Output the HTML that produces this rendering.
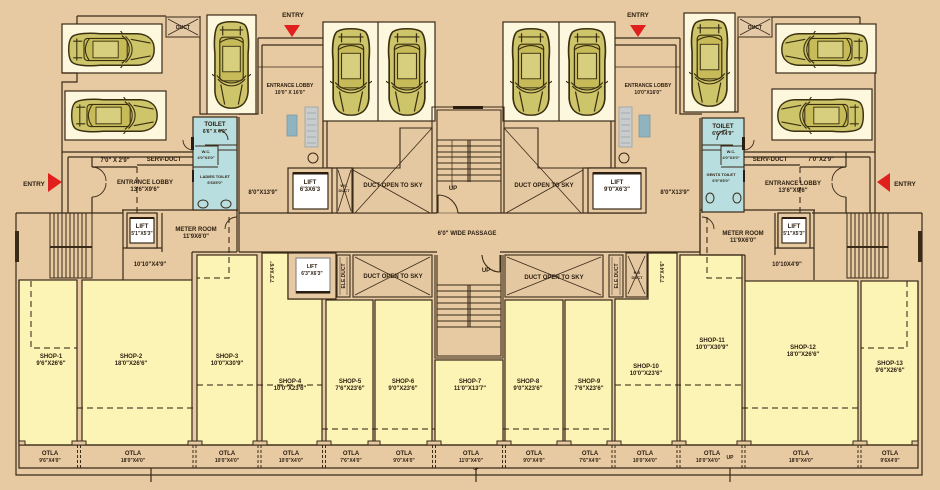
<!DOCTYPE html>
<html><head><meta charset="utf-8"><style>
html,body{margin:0;padding:0;background:#E7CAA2;}
svg{display:block;}
.t{font-family:"Liberation Sans",sans-serif;font-weight:bold;font-size:6px;fill:#2b1d10;text-anchor:middle;}
.s{font-size:5px;}
.xs{font-size:4px;}
.en{font-size:6.5px;}
</style></head><body>
<svg width="940" height="490" viewBox="0 0 940 490" xmlns="http://www.w3.org/2000/svg">
<defs>
<symbol id="car" viewBox="0 0 100 40" preserveAspectRatio="none">
<path d="M6,7 C10,2 28,2 38,3 L80,3 C93,4 98,11 98,20 C98,29 93,36 80,37 L38,37 C28,38 10,38 6,33 C2,28 2,12 6,7 Z" fill="#CEC46A" stroke="#3a3010" stroke-width="1.6"/>
<rect x="20" y="8" width="48" height="24" rx="4" fill="#C6BB58" stroke="#3a3010" stroke-width="1.2"/>
<rect x="30" y="11" width="28" height="18" fill="#D8CF7E" stroke="#3a3010" stroke-width="1"/>
<path d="M62,5 C73,13 73,27 62,35 M66,6 C76,14 76,26 66,34 M26,8 C20,16 20,24 26,32 M72,9 L94,13 M72,31 L94,27 M8,11 L18,11 M8,29 L18,29 M63,3 L60,-1 M63,37 L60,41 M12,8 L12,32" fill="none" stroke="#3a3010" stroke-width="1.2"/>
</symbol>
</defs>
<rect width="940" height="490" fill="#E7CAA2"/>

<!-- SHOPS -->
<g fill="#FBF4B4" stroke="#3a2a18" stroke-width="1.2">
<rect x="19" y="280" width="58" height="165"/>
<rect x="82" y="280" width="110" height="165"/>
<rect x="197" y="255" width="60" height="190"/>
<path d="M262,253 H288 V299 H322 V445 H262 Z"/>
<rect x="326" y="300" width="47" height="145"/>
<rect x="375" y="300" width="57" height="145"/>
<rect x="435" y="360" width="68" height="85"/>
<rect x="505" y="300" width="58" height="145"/>
<rect x="565" y="300" width="47" height="145"/>
<path d="M615,299 H648 V253 H677 V445 H615 Z"/>
<rect x="680" y="255" width="62" height="190"/>
<rect x="745" y="281" width="113" height="164"/>
<rect x="861" y="281" width="57" height="164"/>
</g>

<!-- shop dashed lines -->
<g fill="none" stroke="#2b1d10" stroke-width="1" stroke-dasharray="6,4">
<path d="M31,281 V348 H77"/>
<path d="M77,408 H195"/>
<path d="M197,385 H322"/>
<path d="M322,429 H435"/>
<path d="M503,429 H613"/>
<path d="M615,385 H742"/>
<path d="M742,408 H860"/>
<path d="M907,281 V348 H861"/>
<path d="M229,217 V278 H197"/>
<path d="M707,217 V278 H742"/>
<path d="M137,167 V213"/>
<path d="M800,167 V213"/>
</g>

<!-- OTLA band & outer walls -->
<g fill="none" stroke="#3a2a18" stroke-width="1.2">
<path d="M16,213 V475 H922 V213"/>
<path d="M19,280 V468 H918 V281"/>
<path d="M19,445 H918"/>
<path d="M16,213 H123"/>
<path d="M812,213 H922"/>
<path d="M151,468 V482 M476,468 V482 M730,468 V482"/>
</g>
<rect x="15" y="231" width="4" height="31" fill="#3a2a18"/>
<rect x="918" y="231" width="4" height="31" fill="#3a2a18"/>
<g fill="none" stroke="#3a2a18" stroke-width="1" stroke-dasharray="3,2">
<path d="M77.5,445 V468 M80.5,445 V468 M193,445 V468 M196,445 V468 M258,445 V468 M261,445 V468 M322.5,445 V468 M325.5,445 V468 M432.5,445 V468 M435.5,445 V468 M502.5,445 V468 M505.5,445 V468 M612,445 V468 M615,445 V468 M677,445 V468 M680,445 V468 M742,445 V468 M745,445 V468 M858,445 V468 M861,445 V468"/>
</g>
<g fill="#E7CAA2" stroke="#3a2a18" stroke-width="1">
<rect x="72" y="441" width="14" height="4"/><rect x="188" y="441" width="14" height="4"/>
<rect x="253" y="441" width="14" height="4"/><rect x="317" y="441" width="14" height="4"/>
<rect x="368" y="441" width="12" height="4"/><rect x="427" y="441" width="14" height="4"/>
<rect x="497" y="441" width="14" height="4"/><rect x="557" y="441" width="14" height="4"/>
<rect x="607" y="441" width="14" height="4"/><rect x="672" y="441" width="14" height="4"/>
<rect x="737" y="441" width="14" height="4"/><rect x="853" y="441" width="14" height="4"/>
<rect x="19" y="441" width="6" height="4"/><rect x="912" y="441" width="6" height="4"/>
</g>

<!-- STAIRS left/right lower -->
<g fill="none" stroke="#3a2a18" stroke-width="1">
<rect x="50" y="213" width="42" height="65"/>
<path d="M54,213 V278 M58,213 V278 M62,213 V278 M66,213 V278 M70,213 V278 M74,213 V278 M78,213 V278 M82,213 V278 M86,213 V278"/>
<path d="M50,247 H92" stroke-width="2"/>
<rect x="847" y="213" width="41" height="65"/>
<path d="M851,213 V278 M855,213 V278 M859,213 V278 M863,213 V278 M867,213 V278 M871,213 V278 M875,213 V278 M879,213 V278 M883,213 V278"/>
<path d="M847,247 H888" stroke-width="2"/>
</g>

<!-- Car boxes -->
<g fill="#FDF8DD" stroke="#3a2a18" stroke-width="1.2">
<rect x="62" y="24" width="100" height="49"/>
<rect x="65" y="91" width="101" height="49"/>
<rect x="207" y="15" width="49" height="99"/>
<rect x="323" y="22" width="112" height="99"/>
<rect x="503" y="22" width="112" height="99"/>
<rect x="684" y="13" width="51" height="99"/>
<rect x="776" y="24" width="100" height="49"/>
<rect x="772" y="89" width="100" height="51"/>
</g>
<g stroke="#3a2a18" stroke-width="1.2"><path d="M378,22 V121 M559,22 V121"/></g>

<!-- cars -->
<use href="#car" x="66" y="31" width="90" height="37"/>
<use href="#car" x="69" y="97" width="90" height="37"/>
<use href="#car" transform="translate(870,31) scale(-1,1)" width="90" height="37"/>
<use href="#car" transform="translate(866,97) scale(-1,1)" width="90" height="37"/>
<use href="#car" transform="translate(251,19) rotate(90)" width="91" height="39"/>
<use href="#car" transform="translate(372,26) rotate(90)" width="91" height="42"/>
<use href="#car" transform="translate(428,26) rotate(90)" width="91" height="42"/>
<use href="#car" transform="translate(552,26) rotate(90)" width="91" height="42"/>
<use href="#car" transform="translate(608,26) rotate(90)" width="91" height="42"/>
<use href="#car" transform="translate(730,17) rotate(90)" width="91" height="41"/>

<!-- Upper walls -->
<g fill="none" stroke="#3a2a18" stroke-width="1.2">
<path d="M77,16 H166 M77,16 V24"/>
<path d="M62,73 H77 V82 H62 V152 H193"/>
<path d="M68,157 H193"/>
<path d="M62,152 V213 M68,157 V213"/>
<path d="M92,157 V167 M92,197 V213"/>
<path d="M92,167 H137 M137,165 H193"/>
<path d="M200,16 V37"/>
<path d="M200,37 V114 H207"/>
<path d="M237,117 V252 M239,117 V213"/>
<path d="M258,38 V114 H239 M258,38 H323 M262,45 H323 M262,45 V114"/>
<path d="M258,67 H323" stroke-width="0.8"/>
<path d="M323,121 V168 M327,121 V168 M327,168 H353"/>
<path d="M122,210 H238"/>
<path d="M123,210 V280 M157,213 V248 M162,213 V252 M123,248 H162"/>
<path d="M192,252 H237 M192,252 V280"/>
<path d="M239,213 V252"/>
<path d="M288,213 H437 M458,213 H642"/>
<path d="M239,252 H437 M500,252 H700"/>
<path d="M239,213 H288"/>
<path d="M860,17 H772 M860,17 V24"/>
<path d="M876,73 H875 V152 H744 M870,157 H744"/>
<path d="M875,152 V213 M870,157 V213"/>
<path d="M846,152 V167 M846,197 V213"/>
<path d="M846,167 H800 M800,165 H744"/>
<path d="M738,37 V112 H735"/>
<path d="M700,118 V255 M702,118 V213"/>
<path d="M680,38 V114 H702 M680,38 H615 M676,45 H615 M676,45 V114"/>
<path d="M615,67 H680" stroke-width="0.8"/>
<path d="M615,121 V168 M611,121 V168 M611,168 H583"/>
<path d="M700,210 H815 M814,210 V280 M778,213 V248 M775,213 V255 M814,248 H775"/>
<path d="M700,255 H745 M745,255 V281"/>
<path d="M700,213 V252"/>
</g>

<!-- doors -->
<g fill="none" stroke="#3a2a18" stroke-width="0.9">
<path d="M92,167 A14,14 0 0 1 106,181 M92,197 A14,14 0 0 0 106,183"/>
<path d="M846,167 A14,14 0 0 0 832,181 M846,197 A14,14 0 0 1 832,183"/>
<path d="M237,217 A12,12 0 0 0 225,229"/>
<path d="M702,217 A12,12 0 0 1 714,229"/>
<path d="M193,150 A10,10 0 0 1 183,140"/>
<path d="M744,150 A10,10 0 0 0 754,140"/>
</g>

<!-- Ducts top -->
<g fill="#E4C9A6" stroke="#3a2a18" stroke-width="1">
<rect x="166" y="17" width="34" height="20"/>
<rect x="738" y="17" width="34" height="20"/>
</g>
<g stroke="#3a2a18" stroke-width="0.8" fill="none">
<path d="M168,19 L198,35 M198,19 L168,35 M740,19 L770,35 M770,19 L740,35"/>
</g>

<!-- Toilets -->
<g stroke="#3a2a18" stroke-width="1.2">
<rect x="193" y="117" width="44" height="93" fill="#B8DEE0"/>
<rect x="702" y="118" width="42" height="94" fill="#B8DEE0"/>
</g>
<g fill="none" stroke="#3a2a18" stroke-width="1">
<path d="M205,145 H237 M195,146 H218 V165 M193,167 H218 M218,150 H237"/>
<path d="M702,145 H733 M742,146 H721 V165 M744,167 H721 M702,150 H721"/>
<ellipse cx="203" cy="204" rx="5" ry="4"/><ellipse cx="226" cy="204" rx="5" ry="4"/>
<ellipse cx="710" cy="198" rx="4" ry="5"/><ellipse cx="737" cy="198" rx="4" ry="5"/>
<path d="M218,130 A10,10 0 0 1 228,140 M727,130 A10,10 0 0 0 717,140"/>
</g>
<g fill="#2b1d10">
<rect x="191" y="137" width="3" height="13"/><rect x="192" y="170" width="2" height="12"/>
<rect x="742" y="137" width="3" height="13"/><rect x="743" y="170" width="2" height="12"/>
</g>

<!-- Lobby fixtures -->
<rect x="287" y="115" width="10" height="21" fill="#8FB3BF" stroke="#7a9aa6" stroke-width="0.8"/>
<rect x="305" y="107" width="13" height="40" fill="#C9CCCC" stroke="#98a0a4" stroke-width="0.8"/>
<path d="M307,113 H316 M307,119 H316 M307,125 H316 M307,131 H316 M307,137 H316 M307,143 H316" stroke="#98a0a4" stroke-width="0.7"/>
<circle cx="313" cy="158" r="5" fill="none" stroke="#3a2a18" stroke-width="1"/>
<rect x="639" y="115" width="11" height="22" fill="#8FB3BF" stroke="#7a9aa6" stroke-width="0.8"/>
<rect x="619" y="107" width="13" height="40" fill="#C9CCCC" stroke="#98a0a4" stroke-width="0.8"/>
<path d="M621,113 H630 M621,119 H630 M621,125 H630 M621,131 H630 M621,137 H630 M621,143 H630" stroke="#98a0a4" stroke-width="0.7"/>
<circle cx="624" cy="158" r="5" fill="none" stroke="#3a2a18" stroke-width="1"/>

<!-- Lifts -->
<g stroke="#3a2a18" stroke-width="1.2">
<rect x="127" y="213" width="30" height="35" fill="#E7CAA2"/>
<rect x="130" y="218" width="24" height="25" fill="#FFFFFF"/>
<rect x="288" y="168" width="44" height="45" fill="#E7CAA2"/>
<rect x="293" y="173" width="35" height="36" fill="#FFFFFF"/>
<rect x="588" y="168" width="58" height="45" fill="#E7CAA2"/>
<rect x="593" y="173" width="48" height="36" fill="#FFFFFF"/>
<rect x="778" y="213" width="32" height="35" fill="#E7CAA2"/>
<rect x="782" y="218" width="24" height="25" fill="#FFFFFF"/>
<rect x="288" y="253" width="48" height="46" fill="#E7CAA2"/>
<rect x="296" y="258" width="34" height="35" fill="#FFFFFF" stroke="#8a8a8a"/>
</g>
<g fill="#2b1d10">
<rect x="130" y="217" width="24" height="2"/><rect x="293" y="172" width="35" height="2.5"/>
<rect x="593" y="172" width="48" height="2.5"/><rect x="782" y="217" width="24" height="2"/>
<rect x="296" y="291" width="34" height="2.5"/>
</g>

<!-- Ducts open to sky & ele ducts -->
<g fill="#E4C8A2" stroke="#3a2a18" stroke-width="1.1">
<path d="M353,168 H400 V128 H432 V213 H353 Z"/>
<path d="M504,128 H538 V168 H583 V213 H504 Z"/>
<rect x="337" y="168" width="15" height="45"/>
<rect x="353" y="255" width="79" height="42"/>
<rect x="505" y="255" width="98" height="42"/>
<rect x="337" y="255" width="13" height="42"/>
<rect x="609" y="255" width="14" height="42"/>
<rect x="626" y="253" width="21" height="44"/>
</g>
<g fill="none" stroke="#3a2a18" stroke-width="0.8">
<path d="M432,128 L355,213 M353,170 L430,213"/>
<path d="M504,128 L581,213 M583,170 L506,213"/>
<path d="M338,170 L351,211 M351,170 L338,211"/>
<path d="M355,257 L430,295 M430,257 L355,295"/>
<path d="M507,257 L601,295 M601,257 L507,295"/>
<path d="M628,256 L645,294 M645,256 L628,294"/>
<path d="M340,257 V295 M347,257 V295 M612,257 V295 M620,257 V295" stroke-width="0.5"/>
</g>

<!-- Center stairs upper -->
<g fill="none" stroke="#3a2a18" stroke-width="1.1">
<path d="M432,213 V107 H504 V213 M437,213 V110 H501 V213"/>
<path d="M437,140 H501 M437,146 H501 M437,152 H501 M437,157 H501 M437,163 H501 M437,169 H501 M437,175 H501 M437,181 H501"/>
<path d="M468,140 V182 M470,140 V182"/>
<path d="M452,140 V188" stroke-width="0.7"/>
<path d="M438,195 V213 M438,195 A20,20 0 0 1 458,213"/>
<path d="M437,213 H458" stroke-width="0.6"/>
</g>
<rect x="453" y="106" width="30" height="3" fill="#2b1d10"/>

<!-- Center stairs lower -->
<g fill="none" stroke="#3a2a18" stroke-width="1.1">
<path d="M435,255 V358 H503 V255 M437,255 V356 H501 V255"/>
<path d="M437,285 H501 M437,291 H501 M437,297 H501 M437,303 H501 M437,309 H501 M437,315 H501 M437,321 H501 M437,327 H501"/>
<path d="M468,285 V327 M470,285 V327"/>
<path d="M500,272 V255 M500,272 A18,18 0 0 1 482,255"/>
</g>

<!-- TEXT -->
<g class="t">
<text x="34" y="186" class="t en">ENTRY</text>
<text x="293" y="17" class="t en">ENTRY</text>
<text x="638" y="17" class="t en">ENTRY</text>
<text x="905" y="186" class="t en">ENTRY</text>
<text x="183" y="29" class="t s">DUCT</text>
<text x="755" y="29" class="t s">DUCT</text>
<text x="290" y="87" class="t s">ENTRANCE LOBBY</text>
<text x="290" y="94" class="t s">10'0" X 16'0"</text>
<text x="648" y="87" class="t s">ENTRANCE LOBBY</text>
<text x="648" y="94" class="t s">10'0"X16'0"</text>
<text x="215" y="126" class="t">TOILET</text>
<text x="215" y="133" class="t s">6'6" X 4'9"</text>
<text x="206" y="153" class="t xs">W.C.</text>
<text x="206" y="159" class="t xs">4'0"X3'0"</text>
<text x="215" y="178" class="t xs">LADIES TOILET</text>
<text x="215" y="184" class="t xs">6'6X5'0"</text>
<text x="723" y="128" class="t">TOILET</text>
<text x="723" y="135" class="t s">6'6"X4'9"</text>
<text x="731" y="153" class="t xs">W.C.</text>
<text x="731" y="159" class="t xs">4'0"X3'0"</text>
<text x="721" y="176" class="t xs">GENTS TOILET</text>
<text x="721" y="182" class="t xs">6'9"X5'0"</text>
<text x="115" y="162" class="t">7'0" X 2'9"</text>
<text x="164" y="161" class="t">SERV-DUCT</text>
<text x="770" y="161" class="t">SERV-DUCT</text>
<text x="821" y="161" class="t">7'0"X2'9"</text>
<text x="145" y="184" class="t">ENTRANCE LOBBY</text>
<text x="145" y="191" class="t">13'6"X9'6"</text>
<text x="793" y="185" class="t">ENTRANCE LOBBY</text>
<text x="793" y="192" class="t">13'6"X9'6"</text>
<text x="142" y="228" class="t">LIFT</text>
<text x="142" y="235" class="t s">5'1"X5'3"</text>
<text x="794" y="228" class="t">LIFT</text>
<text x="794" y="235" class="t s">5'1"X5'3"</text>
<text x="196" y="231" class="t">METER ROOM</text>
<text x="196" y="238" class="t">11'9X6'0"</text>
<text x="743" y="235" class="t">METER ROOM</text>
<text x="743" y="242" class="t">11'9X6'0"</text>
<text x="263" y="194" class="t">8'0"X13'9"</text>
<text x="675" y="194" class="t">8'0"X13'9"</text>
<text x="310" y="184" class="t">LIFT</text>
<text x="310" y="191" class="t">6'3X6'3</text>
<text x="617" y="184" class="t">LIFT</text>
<text x="617" y="191" class="t">9'0"X6'3"</text>
<text x="344" y="187" class="t xs">W/L</text>
<text x="344" y="192" class="t xs">DUCT</text>
<text x="393" y="187" class="t">DUCT OPEN TO SKY</text>
<text x="544" y="187" class="t">DUCT OPEN TO SKY</text>
<text x="453" y="190" class="t">UP</text>
<text x="467" y="235" class="t">6'0" WIDE PASSAGE</text>
<text x="150" y="266" class="t">10'10"X4'9"</text>
<text x="787" y="266" class="t">10'10X4'9"</text>
<text x="312" y="268" class="t s">LIFT</text>
<text x="312" y="275" class="t s">6'3"X6'3"</text>
<text x="393" y="278" class="t">DUCT OPEN TO SKY</text>
<text x="554" y="279" class="t">DUCT OPEN TO SKY</text>
<text x="486" y="272" class="t">UP</text>
<text class="t s" transform="translate(345,276) rotate(-90)">ELE.DUCT</text>
<text class="t s" transform="translate(618,276) rotate(-90)">ELE.DUCT</text>
<text x="637" y="274" class="t xs">H.S</text>
<text x="637" y="279" class="t xs">DUCT</text>
<text class="t s" transform="translate(274,272) rotate(-90)">7'3"X4'6"</text>
<text class="t s" transform="translate(664,272) rotate(-90)">7'3"X4'6"</text>

<text x="51" y="358" class="t">SHOP-1</text><text x="51" y="365" class="t">9'6"X26'6"</text>
<text x="131" y="358" class="t">SHOP-2</text><text x="131" y="365" class="t">18'0"X26'6"</text>
<text x="227" y="358" class="t">SHOP-3</text><text x="227" y="365" class="t">10'0"X30'9"</text>
<text x="290" y="383" class="t">SHOP-4</text><text x="290" y="390" class="t">10'0"X23'6"</text>
<text x="350" y="383" class="t">SHOP-5</text><text x="350" y="390" class="t">7'6"X23'6"</text>
<text x="403" y="383" class="t">SHOP-6</text><text x="403" y="390" class="t">9'0"X23'6"</text>
<text x="470" y="383" class="t">SHOP-7</text><text x="470" y="390" class="t">11'0"X13'7"</text>
<text x="528" y="383" class="t">SHOP-8</text><text x="528" y="390" class="t">9'0"X23'6"</text>
<text x="589" y="383" class="t">SHOP-9</text><text x="589" y="390" class="t">7'6"X23'6"</text>
<text x="646" y="368" class="t">SHOP-10</text><text x="646" y="375" class="t">10'0"X23'6"</text>
<text x="712" y="342" class="t">SHOP-11</text><text x="712" y="349" class="t">10'0"X30'9"</text>
<text x="803" y="349" class="t">SHOP-12</text><text x="803" y="356" class="t">18'0"X26'6"</text>
<text x="890" y="365" class="t">SHOP-13</text><text x="890" y="372" class="t">9'6"X26'6"</text>

<text x="50" y="455" class="t">OTLA</text><text x="50" y="462" class="t s">9'6"X4'0"</text>
<text x="133" y="455" class="t">OTLA</text><text x="133" y="462" class="t s">18'0"X4'0"</text>
<text x="227" y="455" class="t">OTLA</text><text x="227" y="462" class="t s">10'0"X4'0"</text>
<text x="291" y="455" class="t">OTLA</text><text x="291" y="462" class="t s">10'0"X4'0"</text>
<text x="351" y="455" class="t">OTLA</text><text x="351" y="462" class="t s">7'6"X4'0"</text>
<text x="404" y="455" class="t">OTLA</text><text x="404" y="462" class="t s">9'0"X4'0"</text>
<text x="471" y="455" class="t">OTLA</text><text x="471" y="462" class="t s">11'0"X4'0"</text>
<text x="476" y="470" class="t xs">UP</text>
<text x="534" y="455" class="t">OTLA</text><text x="534" y="462" class="t s">9'0"X4'0"</text>
<text x="590" y="455" class="t">OTLA</text><text x="590" y="462" class="t s">7'6"X4'0"</text>
<text x="645" y="455" class="t">OTLA</text><text x="645" y="462" class="t s">10'0"X4'0"</text>
<text x="712" y="455" class="t">OTLA</text><text x="708" y="462" class="t s">10'0"X4'0"</text>
<text x="730" y="459" class="t s">UP</text>
<text x="801" y="455" class="t">OTLA</text><text x="801" y="462" class="t s">18'0"X4'0"</text>
<text x="890" y="455" class="t">OTLA</text><text x="890" y="462" class="t s">9'6X4'0"</text>
</g>

<!-- Entry arrows -->
<g fill="#E0201C">
<path d="M48,173 L62,182 L48,192 Z"/>
<path d="M284,25 L300,25 L292,37 Z"/>
<path d="M630,25 L646,25 L638,37 Z"/>
<path d="M890,173 L877,182 L890,192 Z"/>
</g>
</svg>
</body></html>
